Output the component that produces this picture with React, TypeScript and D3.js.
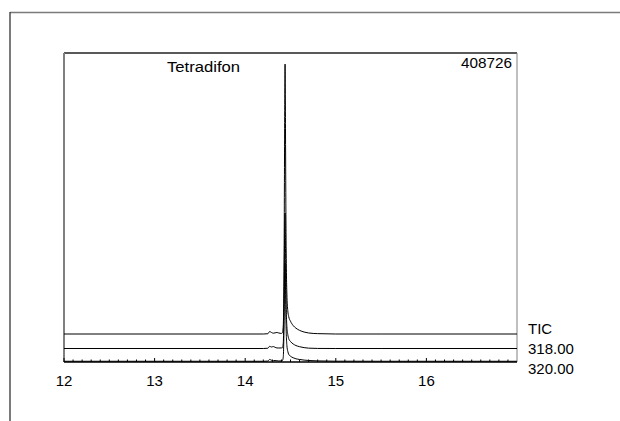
import React from "react";
import * as d3 from "d3";

// Retention time (min)
const times = [12.0, 14.2, 14.25, 14.27, 14.29, 14.31, 14.33, 14.35, 14.37, 14.4, 14.41, 14.42, 14.43, 14.435, 14.44, 14.445, 14.45, 14.46, 14.47, 14.48, 14.5, 14.53, 14.56, 14.6, 14.65, 14.7, 14.8, 15.0, 15.5, 17.0];
// Abundance (counts above each trace's baseline)
const ticValues = [0, 0, 400, 3400, 2100, 1100, 1600, 2100, 1400, 800, 1400, 11000, 123400, 274300, 370300, 274300, 150900, 54900, 32000, 24000, 17500, 11500, 8000, 5000, 2700, 1400, 500, 0, 0, 0];
const ion318Values = [0, 0, 400, 3000, 2100, 2700, 1600, 800, 700, 800, 1100, 6900, 82300, 157700, 185800, 137200, 75400, 30200, 19200, 13700, 9600, 6200, 4100, 2500, 1200, 500, 100, 0, 0, 0];
const ion320Values = [0, 0, 300, 2500, 1400, 800, 1100, 700, 400, 500, 800, 5500, 61700, 116600, 134400, 102900, 54900, 21900, 13700, 9600, 6900, 4800, 3400, 2500, 1600, 1100, 500, 100, 0, 0];
const traceLabels = ["TIC", "318.00", "320.00"];
const traceOffsets = [38400, 18500, 1000];
const xTicks = [12, 13, 14, 15, 16];
const maxAbundance = 408726;
const compoundName = "Tetradifon";

const W = 620;
const H = 421;
const left = 64;
const right = 517;
const top = 53;
const bottom = 362;

export default function App() {
  const x = d3.scaleLinear().domain([12, 17]).range([left, right]);
  const y = d3
    .scaleLinear()
    .domain([0, (maxAbundance * (bottom - top)) / 298])
    .range([bottom, top]);

  const series = [ticValues, ion318Values, ion320Values];
  const line = d3
    .line<[number, number]>()
    .x((d) => x(d[0]))
    .y((d) => y(d[1]))
    .curve(d3.curveMonotoneX);

  const minorTicks = d3.range(120, 170).map((v) => v / 10);
  const font = "'Liberation Sans', Arial, sans-serif";
  const labelY = [334, 353.5, 373.5];

  return (
    <svg
      width={W}
      height={H}
      style={{ position: "absolute", left: 0, top: 0, background: "#fff" }}
      fontFamily={font}
    >
      {/* outer frame */}
      <line x1={10} y1={12.5} x2={W} y2={12.5} stroke="#7a7a7a" strokeWidth={1.5} />
      <line x1={10} y1={12} x2={10} y2={H} stroke="#333" strokeWidth={1.3} />

      {/* plot frame */}
      <line x1={left} y1={53} x2={right} y2={53} stroke="#222" strokeWidth={1.3} />
      <line x1={left} y1={top} x2={left} y2={bottom} stroke="#808080" strokeWidth={2} />
      <line x1={right} y1={top} x2={right} y2={bottom} stroke="#808080" strokeWidth={1} />

      {/* traces */}
      {series.map((vals, i) => (
        <path
          key={i}
          d={line(times.map((t, j) => [t, vals[j] + traceOffsets[i]]))!}
          fill="none"
          stroke="#000"
          strokeWidth={1}
        />
      ))}

      {/* x axis */}
      <line x1={left} y1={bottom} x2={right} y2={bottom} stroke="#000" strokeWidth={1.5} />
      {minorTicks.map((t) => (
        <line
          key={t}
          x1={x(t)}
          x2={x(t)}
          y1={bottom}
          y2={bottom - (Math.abs(t - Math.round(t)) < 1e-6 ? 4 : 2.5)}
          stroke="#000"
          strokeWidth={1}
        />
      ))}
      {xTicks.map((t) => (
        <text key={t} x={x(t)} y={386} textAnchor="middle" fontSize={15} fill="#000">
          {t}
        </text>
      ))}

      {/* trace labels */}
      {traceLabels.map((s, i) => (
        <text key={s} x={528} y={labelY[i]} fontSize={15} fill="#000">
          {s}
        </text>
      ))}

      <text x={167} y={72} fontSize={14} fill="#000" textLength={73} lengthAdjust="spacingAndGlyphs">
        {compoundName}
      </text>
      <text x={512} y={67.5} fontSize={14} textAnchor="end" fill="#000" textLength={51} lengthAdjust="spacingAndGlyphs">
        {maxAbundance}
      </text>
    </svg>
  );
}
